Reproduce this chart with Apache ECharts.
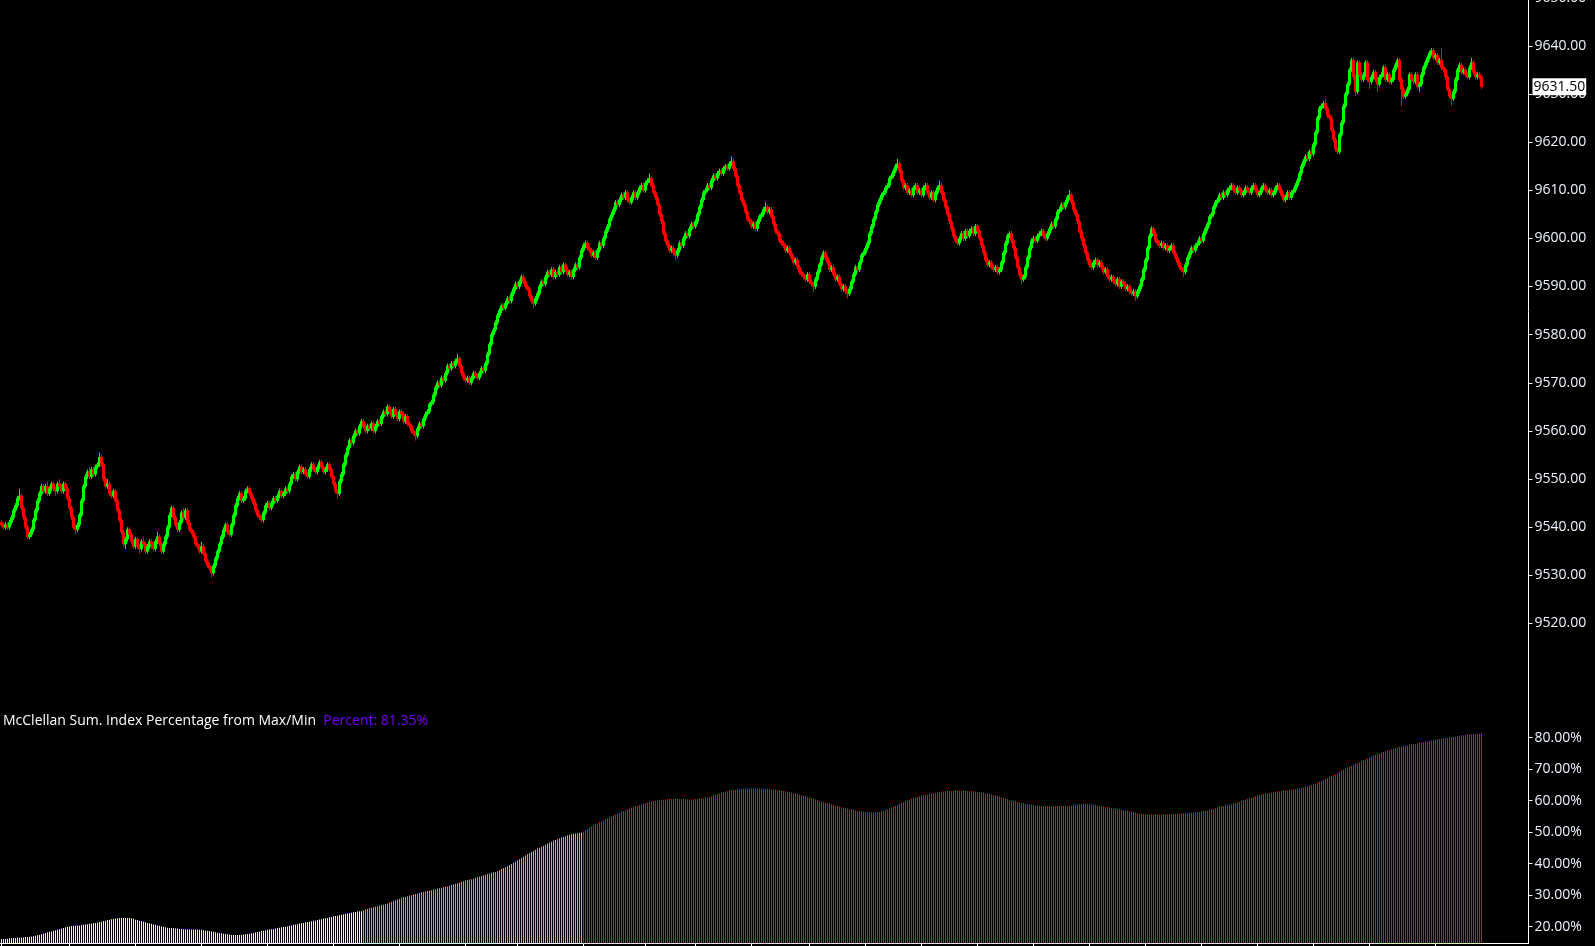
<!DOCTYPE html>
<html><head><meta charset="utf-8">
<script src="https://cdn.jsdelivr.net/npm/echarts@6/dist/echarts.min.js"></script>
<style>html,body{margin:0;padding:0;background:#000;}#c{width:1595px;height:946px;}</style>
</head><body><div id="c"></div>
<script>
// candles: [open, close, low, high]
const candles = [
[9541,9540.5,9540,9541.5],[9540.5,9540,9539.5,9541],[9540,9540.5,9539.5,9541],[9540.5,9540,9539.5,9541],[9540,9541,9539.5,9541.5],[9541,9542,9540.5,9542.5],[9542,9543.5,9541.5,9544],[9543.5,9544.5,9543,9545],[9544.5,9546,9544,9546.5],[9546,9546.5,9545.5,9548],
[9546.5,9544,9543.5,9547],[9544,9542,9541.5,9544.5],[9542,9540,9539.5,9542.5],[9540,9538,9537.5,9540.5],[9538,9538.5,9537.5,9539],[9538.5,9539.5,9538,9540],[9539.5,9541.5,9539,9542],[9541.5,9543.5,9541,9544],[9543.5,9545.5,9543,9546],[9545.5,9547,9545,9547.5],
[9547,9548.5,9546.5,9549],[9548.5,9547.5,9547,9549],[9547.5,9548.5,9547,9549],[9548.5,9547,9546.5,9549.5],[9547,9548,9546.5,9548.5],[9548,9549,9547.5,9549.5],[9549,9548,9547.5,9549.5],[9548,9547.5,9546.5,9548.5],[9547.5,9549,9547,9549.5],[9549,9548.5,9548,9550],
[9548.5,9547.5,9547,9549],[9547.5,9549,9547,9549.5],[9549,9548,9547.5,9549.5],[9548,9546,9545.5,9548.5],[9546,9544,9543.5,9546.5],[9544,9542,9541.5,9544.5],[9542,9540,9539.5,9542.5],[9540,9539.5,9538.5,9540.5],[9539.5,9540.5,9539,9541],[9540.5,9542.5,9540,9543],
[9542.5,9545.5,9542,9546],[9545.5,9548.5,9545,9549],[9548.5,9550.5,9548,9551],[9550.5,9551.5,9550,9552],[9551.5,9550.5,9550,9552.5],[9550.5,9552,9550,9552.5],[9552,9551,9550.5,9552.5],[9551,9552.5,9550.5,9553],[9552.5,9553,9552,9553.5],[9553,9554.5,9552.5,9555.5],
[9554.5,9553,9552.5,9555],[9553,9550,9549.5,9553.5],[9550,9548.5,9548,9550.5],[9548.5,9549,9548,9550],[9549,9547,9546.5,9549.5],[9547,9546.5,9546,9547.5],[9546.5,9547.5,9546,9548],[9547.5,9545.5,9545,9548],[9545.5,9543.5,9543,9546],[9543.5,9541.5,9541,9544],
[9541.5,9539,9538.5,9542],[9539,9536.5,9536,9539.5],[9536.5,9537.5,9535.5,9538],[9537.5,9539.5,9537,9540],[9539.5,9538.5,9538,9540],[9538.5,9537,9536.5,9539],[9537,9536,9535.5,9537.5],[9536,9537.5,9535.5,9538],[9537.5,9536,9535.5,9538],[9536,9535.5,9534.5,9536.5],
[9535.5,9537,9535,9537.5],[9537,9536.5,9536,9538],[9536.5,9535,9534.5,9537],[9535,9536,9534.5,9536.5],[9536,9537,9535.5,9537.5],[9537,9536.5,9535.5,9537.5],[9536.5,9535.5,9535,9537],[9535.5,9537,9535,9537.5],[9537,9538,9536.5,9539],[9538,9536.5,9536,9538.5],
[9536.5,9535,9534.5,9537],[9535,9536.5,9534.5,9537],[9536.5,9538,9536,9538.5],[9538,9540,9537.5,9540.5],[9540,9542.5,9539.5,9543],[9542.5,9544,9542,9544.5],[9544,9542,9541.5,9544.5],[9542,9540.5,9540,9542.5],[9540.5,9539.5,9539,9541],[9539.5,9541,9539,9541.5],
[9541,9543,9540.5,9543.5],[9543,9542,9541.5,9544],[9542,9543.5,9541.5,9544],[9543.5,9541,9540.5,9544],[9541,9539.5,9539,9541.5],[9539.5,9539,9538.5,9540],[9539,9538,9537.5,9539.5],[9538,9536.5,9536,9538.5],[9536.5,9536,9535.5,9537],[9536,9535,9534.5,9536.5],
[9535,9536,9534.5,9537],[9536,9534.5,9534,9536.5],[9534.5,9533,9532.5,9535],[9533,9532,9531.5,9533.5],[9532,9531.5,9531,9532.5],[9531.5,9530.5,9529.5,9532],[9530.5,9532,9530,9532.5],[9532,9533.5,9531.5,9534],[9533.5,9535,9533,9535.5],[9535,9536.5,9534.5,9537],
[9536.5,9538,9536,9538.5],[9538,9539.5,9537.5,9540],[9539.5,9540.5,9539,9541],[9540.5,9539,9538.5,9541],[9539,9538.5,9538,9539.5],[9538.5,9540.5,9538,9541],[9540.5,9542.5,9540,9543],[9542.5,9544.5,9542,9545],[9544.5,9546,9544,9546.5],[9546,9547,9545.5,9547.5],
[9547,9545.5,9545,9547.5],[9545.5,9546,9545,9546.5],[9546,9547.5,9545.5,9548],[9547.5,9548,9547,9548.5],[9548,9547,9546.5,9548.5],[9547,9546,9545.5,9547.5],[9546,9545,9544.5,9546.5],[9545,9543.5,9543,9545.5],[9543.5,9542.5,9542,9544],[9542.5,9542,9541.5,9543],
[9542,9541.5,9541,9542.5],[9541.5,9543,9541,9543.5],[9543,9544.5,9542.5,9545],[9544.5,9545,9544,9545.5],[9545,9544,9543.5,9545.5],[9544,9545,9543.5,9545.5],[9545,9546,9544.5,9546.5],[9546,9545.5,9545,9546.5],[9545.5,9546.5,9545,9547],[9546.5,9547.5,9546,9548],
[9547.5,9546.5,9546,9548],[9546.5,9547,9546,9547.5],[9547,9548,9546.5,9548.5],[9548,9547.5,9547,9548.5],[9547.5,9549,9547,9549.5],[9549,9550.5,9548.5,9551],[9550.5,9551,9550,9551.5],[9551,9550,9549.5,9551.5],[9550,9551.5,9549.5,9552],[9551.5,9552.5,9551,9553],
[9552.5,9551.5,9551,9553],[9551.5,9552,9551,9552.5],[9552,9551,9550.5,9552.5],[9551,9550.5,9550,9551.5],[9550.5,9552,9550,9552.5],[9552,9553,9551.5,9553.5],[9553,9552,9551.5,9553.5],[9552,9551.5,9551,9552.5],[9551.5,9552.5,9551,9553],[9552.5,9553.5,9552,9554],
[9553.5,9552.5,9552,9554],[9552.5,9551.5,9551,9553],[9551.5,9552,9551,9552.5],[9552,9553,9551.5,9553.5],[9553,9552,9551.5,9553.5],[9552,9550.5,9550,9552.5],[9550.5,9549,9548.5,9551],[9549,9547.5,9547,9549.5],[9547.5,9547,9546,9548],[9547,9549.5,9546.5,9550],
[9549.5,9551,9549,9551.5],[9551,9553,9550.5,9553.5],[9553,9555,9552.5,9555.5],[9555,9556.5,9554.5,9557],[9556.5,9558,9556,9558.5],[9558,9557.5,9557,9558.5],[9557.5,9559,9557,9559.5],[9559,9560,9558.5,9560.5],[9560,9559.5,9559,9560.5],[9559.5,9561,9559,9561.5],
[9561,9562,9560.5,9562.5],[9562,9561,9560.5,9562.5],[9561,9560,9559.5,9561.5],[9560,9561,9559.5,9561.5],[9561,9560.5,9560,9561.5],[9560.5,9561.5,9560,9562],[9561.5,9560,9559.5,9562],[9560,9561,9559.5,9561.5],[9561,9562,9560.5,9562.5],[9562,9561.5,9561,9562.5],
[9561.5,9563,9561,9563.5],[9563,9564,9562.5,9564.5],[9564,9563.5,9563,9564.5],[9563.5,9565,9563,9565.5],[9565,9564,9563.5,9565.5],[9564,9563,9562.5,9564.5],[9563,9564.5,9562.5,9565],[9564.5,9563.5,9563,9565],[9563.5,9562.5,9562,9564],[9562.5,9564,9562,9564.5],
[9564,9563.5,9563,9564.5],[9563.5,9562,9561.5,9564],[9562,9563,9561.5,9563.5],[9563,9561.5,9561,9563.5],[9561.5,9561,9560.5,9562],[9561,9560,9559.5,9561.5],[9560,9559.5,9559,9560.5],[9559.5,9559,9558,9560],[9559,9560.5,9558.5,9561],[9560.5,9561.5,9560,9562],
[9561.5,9561,9560.5,9562],[9561,9562.5,9560.5,9563],[9562.5,9563.5,9562,9564],[9563.5,9564,9563,9564.5],[9564,9565.5,9563.5,9566],[9565.5,9566,9565,9566.5],[9566,9567.5,9565.5,9568],[9567.5,9569,9567,9569.5],[9569,9570,9568.5,9570.5],[9570,9569.5,9569,9570.5],
[9569.5,9571,9569,9571.5],[9571,9570.5,9570,9571.5],[9570.5,9572,9570,9572.5],[9572,9573.5,9571.5,9574],[9573.5,9573,9572.5,9574],[9573,9574,9572.5,9574.5],[9574,9573.5,9573,9574.5],[9573.5,9574.5,9573,9575],[9574.5,9575,9574,9576],[9575,9573.5,9573,9575.5],
[9573.5,9572,9571.5,9574],[9572,9571,9570.5,9572.5],[9571,9570.5,9570,9571.5],[9570.5,9571,9570,9571.5],[9571,9570,9569.5,9571.5],[9570,9571,9569.5,9571.5],[9571,9572,9570.5,9572.5],[9572,9571.5,9571,9572.5],[9571.5,9571,9570.5,9572],[9571,9572,9570.5,9572.5],
[9572,9573,9571.5,9573.5],[9573,9572.5,9572,9573.5],[9572.5,9574,9572,9574.5],[9574,9576,9573.5,9576.5],[9576,9578,9575.5,9578.5],[9578,9580,9577.5,9580.5],[9580,9581,9579.5,9581.5],[9581,9582.5,9580.5,9583],[9582.5,9584,9582,9584.5],[9584,9585,9583.5,9585.5],
[9585,9586,9584.5,9586.5],[9586,9585.5,9585,9586.5],[9585.5,9586.5,9585,9587],[9586.5,9587.5,9586,9588],[9587.5,9587,9586.5,9588],[9587,9588.5,9586.5,9589],[9588.5,9589.5,9588,9590],[9589.5,9590.5,9589,9591],[9590.5,9590,9589.5,9591],[9590,9591,9589.5,9591.5],
[9591,9592,9590.5,9592.5],[9592,9591,9590.5,9592.5],[9591,9590,9589.5,9591.5],[9590,9589.5,9589,9590.5],[9589.5,9588,9587.5,9590],[9588,9587,9586.5,9588.5],[9587,9586.5,9585.5,9587.5],[9586.5,9587.5,9586,9588],[9587.5,9588.5,9587,9589],[9588.5,9590,9588,9590.5],
[9590,9591,9589.5,9591.5],[9591,9590.5,9590,9591.5],[9590.5,9592,9590,9592.5],[9592,9593,9591.5,9593.5],[9593,9592.5,9592,9593.5],[9592.5,9593.5,9592,9594],[9593.5,9592,9591.5,9594],[9592,9593,9591.5,9593.5],[9593,9592.5,9592,9593.5],[9592.5,9594,9592,9594.5],
[9594,9593,9592.5,9594.5],[9593,9594.5,9592.5,9595],[9594.5,9593.5,9593,9595],[9593.5,9592.5,9592,9594],[9592.5,9593,9592,9593.5],[9593,9592,9591.5,9593.5],[9592,9593.5,9591.5,9594],[9593.5,9594.5,9593,9595],[9594.5,9594,9593.5,9595],[9594,9596,9593.5,9596.5],
[9596,9597.5,9595.5,9598],[9597.5,9598.5,9597,9599],[9598.5,9599,9598,9599.5],[9599,9598,9597.5,9599.5],[9598,9597.5,9597,9598.5],[9597.5,9596.5,9596,9598],[9596.5,9597,9596,9597.5],[9597,9596,9595.5,9597.5],[9596,9597.5,9595.5,9598],[9597.5,9599,9597,9599.5],
[9599,9598.5,9598,9599.5],[9598.5,9600,9598,9600.5],[9600,9601.5,9599.5,9602],[9601.5,9602.5,9601,9603],[9602.5,9604,9602,9604.5],[9604,9605,9603.5,9605.5],[9605,9606,9604.5,9606.5],[9606,9607.5,9605.5,9608],[9607.5,9607,9606.5,9608],[9607,9608,9606.5,9608.5],
[9608,9609,9607.5,9609.5],[9609,9608.5,9608,9609.5],[9608.5,9609.5,9608,9610],[9609.5,9608,9607.5,9610],[9608,9607.5,9607,9608.5],[9607.5,9608.5,9607,9609],[9608.5,9609.5,9608,9610],[9609.5,9608.5,9608,9610],[9608.5,9609.5,9608,9610],[9609.5,9610.5,9609,9611],
[9610.5,9611,9610,9611.5],[9611,9610,9609.5,9611.5],[9610,9611.5,9609.5,9612],[9611.5,9612,9611,9612.5],[9612,9612.5,9611.5,9613.5],[9612.5,9611,9610.5,9613],[9611,9609.5,9609,9611.5],[9609.5,9608.5,9608,9610],[9608.5,9607,9606.5,9609],[9607,9605,9604.5,9607.5],
[9605,9603.5,9603,9605.5],[9603.5,9601,9600.5,9604],[9601,9599.5,9599,9601.5],[9599.5,9598.5,9598,9600],[9598.5,9597.5,9597,9599],[9597.5,9598,9597,9598.5],[9598,9597,9596.5,9598.5],[9597,9596.5,9595.5,9597.5],[9596.5,9597.5,9596,9598],[9597.5,9599,9597,9599.5],
[9599,9598.5,9598,9599.5],[9598.5,9600,9598,9600.5],[9600,9601,9599.5,9601.5],[9601,9600.5,9600,9601.5],[9600.5,9602,9600,9602.5],[9602,9603,9601.5,9603.5],[9603,9602.5,9602,9603.5],[9602.5,9603.5,9602,9604],[9603.5,9605,9603,9605.5],[9605,9606.5,9604.5,9607],
[9606.5,9608,9606,9608.5],[9608,9609.5,9607.5,9610],[9609.5,9610,9609,9610.5],[9610,9611,9609.5,9611.5],[9611,9610.5,9610,9611.5],[9610.5,9612,9610,9612.5],[9612,9613,9611.5,9613.5],[9613,9612.5,9612,9613.5],[9612.5,9613.5,9612,9614],[9613.5,9614,9613,9614.5],
[9614,9613.5,9613,9614.5],[9613.5,9614.5,9613,9615],[9614.5,9615,9614,9615.5],[9615,9614.5,9614,9615.5],[9614.5,9615.5,9614,9616],[9615.5,9616,9615,9617],[9616,9614.5,9614,9616.5],[9614.5,9613,9612.5,9615],[9613,9611,9610.5,9613.5],[9611,9609.5,9609,9611.5],
[9609.5,9608,9607.5,9610],[9608,9607,9606.5,9608.5],[9607,9605.5,9605,9607.5],[9605.5,9604,9603.5,9606],[9604,9603.5,9603,9604.5],[9603.5,9602.5,9602,9604],[9602.5,9603,9602,9603.5],[9603,9602,9601.5,9603.5],[9602,9603.5,9601.5,9604],[9603.5,9604.5,9603,9605],
[9604.5,9605,9604,9605.5],[9605,9606,9604.5,9606.5],[9606,9606.5,9605.5,9607.5],[9606.5,9605.5,9605,9607],[9605.5,9606,9605,9606.5],[9606,9604.5,9604,9606.5],[9604.5,9603,9602.5,9605],[9603,9601.5,9601,9603.5],[9601.5,9601,9600.5,9602],[9601,9599.5,9599,9601.5],
[9599.5,9599,9598.5,9600],[9599,9598.5,9598,9599.5],[9598.5,9597.5,9597,9599],[9597.5,9598,9597,9598.5],[9598,9597,9596.5,9598.5],[9597,9596,9595.5,9597.5],[9596,9595,9594.5,9596.5],[9595,9595.5,9594.5,9596],[9595.5,9594,9593.5,9596],[9594,9593,9592.5,9594.5],
[9593,9592.5,9592,9593.5],[9592.5,9592,9591.5,9593],[9592,9591.5,9591,9592.5],[9591.5,9592.5,9591,9593],[9592.5,9591,9590.5,9593],[9591,9590.5,9590,9591.5],[9590.5,9590,9589,9591],[9590,9591.5,9589.5,9592],[9591.5,9593,9591,9593.5],[9593,9594.5,9592.5,9595],
[9594.5,9596,9594,9596.5],[9596,9597,9595.5,9597.5],[9597,9596,9595.5,9597.5],[9596,9595,9594.5,9596.5],[9595,9593.5,9593,9595.5],[9593.5,9594,9593,9594.5],[9594,9592.5,9592,9594.5],[9592.5,9591.5,9591,9593],[9591.5,9592,9591,9592.5],[9592,9590.5,9590,9592.5],
[9590.5,9589.5,9589,9591],[9589.5,9590,9589,9590.5],[9590,9589,9588.5,9590.5],[9589,9588.5,9587.5,9589.5],[9588.5,9589.5,9588,9590],[9589.5,9591,9589,9591.5],[9591,9592.5,9590.5,9593],[9592.5,9594,9592,9594.5],[9594,9593.5,9593,9594.5],[9593.5,9595,9593,9595.5],
[9595,9596.5,9594.5,9597],[9596.5,9597,9596,9597.5],[9597,9598,9596.5,9598.5],[9598,9599,9597.5,9599.5],[9599,9601,9598.5,9601.5],[9601,9602.5,9600.5,9603],[9602.5,9604,9602,9604.5],[9604,9605.5,9603.5,9606],[9605.5,9607,9605,9607.5],[9607,9608,9606.5,9608.5],
[9608,9609,9607.5,9609.5],[9609,9609.5,9608.5,9610],[9609.5,9610.5,9609,9611],[9610.5,9611,9610,9611.5],[9611,9612.5,9610.5,9613],[9612.5,9613,9612,9613.5],[9613,9614,9612.5,9614.5],[9614,9615,9613.5,9615.5],[9615,9615.5,9614.5,9616.5],[9615.5,9614,9613.5,9616],
[9614,9612,9611.5,9614.5],[9612,9610.5,9610,9612.5],[9610.5,9611,9610,9611.5],[9611,9609.5,9609,9611.5],[9609.5,9610,9609,9610.5],[9610,9609,9608.5,9610.5],[9609,9610.5,9608.5,9611],[9610.5,9611,9610,9611.5],[9611,9609.5,9609,9611.5],[9609.5,9610,9609,9610.5],
[9610,9609,9608.5,9610.5],[9609,9610.5,9608.5,9611],[9610.5,9611,9610,9611.5],[9611,9609.5,9609,9611.5],[9609.5,9608.5,9608,9610],[9608.5,9609.5,9608,9610],[9609.5,9608,9607.5,9610],[9608,9609.5,9607.5,9610],[9609.5,9610.5,9609,9611],[9610.5,9611,9610,9612],
[9611,9609.5,9609,9611.5],[9609.5,9608,9607.5,9610],[9608,9606.5,9606,9608.5],[9606.5,9605,9604.5,9607],[9605,9603.5,9603,9605.5],[9603.5,9602,9601.5,9604],[9602,9600.5,9600,9602.5],[9600.5,9599.5,9599,9601],[9599.5,9599,9598.5,9600],[9599,9600,9598.5,9600.5],
[9600,9601,9599.5,9601.5],[9601,9600,9599.5,9601.5],[9600,9601.5,9599.5,9602],[9601.5,9600.5,9600,9602],[9600.5,9601.5,9600,9602],[9601.5,9602,9601,9602.5],[9602,9601,9600.5,9602.5],[9601,9602.5,9600.5,9603],[9602.5,9601.5,9601,9603],[9601.5,9600,9599.5,9602],
[9600,9598.5,9598,9600.5],[9598.5,9597,9596.5,9599],[9597,9595.5,9595,9597.5],[9595.5,9594.5,9594,9596],[9594.5,9595,9594,9595.5],[9595,9594,9593.5,9595.5],[9594,9593.5,9593,9594.5],[9593.5,9594,9593,9594.5],[9594,9593,9592.5,9594.5],[9593,9593.5,9592.5,9594],
[9593.5,9595,9593,9595.5],[9595,9597,9594.5,9597.5],[9597,9599,9596.5,9599.5],[9599,9600.5,9598.5,9601],[9600.5,9601,9600,9601.5],[9601,9599.5,9599,9601.5],[9599.5,9598,9597.5,9600],[9598,9596,9595.5,9598.5],[9596,9594,9593.5,9596.5],[9594,9592.5,9592,9594.5],
[9592.5,9591.5,9590.5,9593],[9591.5,9592,9591,9592.5],[9592,9594,9591.5,9594.5],[9594,9596,9593.5,9596.5],[9596,9598,9595.5,9598.5],[9598,9599.5,9597.5,9600],[9599.5,9600,9599,9600.5],[9600,9599.5,9599,9600.5],[9599.5,9600.5,9599,9601],[9600.5,9601,9600,9601.5],
[9601,9601.5,9600.5,9602],[9601.5,9600.5,9600,9602],[9600.5,9600,9599.5,9601],[9600,9601,9599.5,9601.5],[9601,9602,9600.5,9602.5],[9602,9603,9601.5,9603.5],[9603,9602.5,9602,9603.5],[9602.5,9604,9602,9604.5],[9604,9605.5,9603.5,9606],[9605.5,9606,9605,9606.5],
[9606,9607,9605.5,9607.5],[9607,9606.5,9606,9607.5],[9606.5,9607.5,9606,9608],[9607.5,9608.5,9607,9609],[9608.5,9609,9608,9610],[9609,9607.5,9607,9609.5],[9607.5,9606,9605.5,9608],[9606,9605,9604.5,9606.5],[9605,9603.5,9603,9605.5],[9603.5,9601.5,9601,9604],
[9601.5,9600,9599.5,9602],[9600,9598.5,9598,9600.5],[9598.5,9597,9596.5,9599],[9597,9595.5,9595,9597.5],[9595.5,9594.5,9594,9596],[9594.5,9594,9593.5,9595],[9594,9595,9593.5,9595.5],[9595,9595.5,9594.5,9596],[9595.5,9594.5,9594,9596],[9594.5,9595,9594,9595.5],
[9595,9594,9593.5,9595.5],[9594,9593,9592.5,9594.5],[9593,9593.5,9592.5,9594],[9593.5,9592,9591.5,9594],[9592,9591.5,9591,9592.5],[9591.5,9592,9591,9592.5],[9592,9591,9590.5,9592.5],[9591,9590.5,9590,9591.5],[9590.5,9591.5,9590,9592],[9591.5,9590,9589.5,9592],
[9590,9591,9589.5,9591.5],[9591,9590.5,9590,9591.5],[9590.5,9589.5,9589,9591],[9589.5,9590,9589,9590.5],[9590,9589,9588.5,9590.5],[9589,9588.5,9588,9589.5],[9588.5,9589,9588,9589.5],[9589,9588,9587,9589.5],[9588,9589,9587.5,9589.5],[9589,9590,9588.5,9590.5],
[9590,9591.5,9589.5,9592],[9591.5,9593.5,9591,9594],[9593.5,9595.5,9593,9596],[9595.5,9598,9595,9598.5],[9598,9600.5,9597.5,9601],[9600.5,9602,9600,9602.5],[9602,9601,9600.5,9602.5],[9601,9599.5,9599,9601.5],[9599.5,9599,9598.5,9600],[9599,9598.5,9598,9599.5],
[9598.5,9599,9598,9599.5],[9599,9598,9597.5,9599.5],[9598,9598.5,9597.5,9599],[9598.5,9597.5,9597,9599],[9597.5,9598,9597,9598.5],[9598,9598.5,9597.5,9599],[9598.5,9597,9596.5,9599],[9597,9596,9595.5,9597.5],[9596,9595,9594.5,9596.5],[9595,9594,9593.5,9595.5],
[9594,9593.5,9593,9594.5],[9593.5,9593,9592,9594],[9593,9594.5,9592.5,9595],[9594.5,9596,9594,9596.5],[9596,9597,9595.5,9597.5],[9597,9598,9596.5,9598.5],[9598,9597.5,9597,9598.5],[9597.5,9598.5,9597,9599],[9598.5,9599,9598,9599.5],[9599,9600,9598.5,9600.5],
[9600,9599.5,9599,9600.5],[9599.5,9601,9599,9601.5],[9601,9602,9600.5,9602.5],[9602,9603,9601.5,9603.5],[9603,9604.5,9602.5,9605],[9604.5,9605,9604,9605.5],[9605,9606.5,9604.5,9607],[9606.5,9607.5,9606,9608],[9607.5,9608,9607,9608.5],[9608,9609,9607.5,9609.5],
[9609,9608.5,9608,9609.5],[9608.5,9609.5,9608,9610],[9609.5,9609,9608.5,9610],[9609,9610,9608.5,9610.5],[9610,9610.5,9609.5,9611],[9610.5,9611,9610,9611.5],[9611,9610,9609.5,9611.5],[9610,9609.5,9609,9610.5],[9609.5,9610.5,9609,9611],[9610.5,9610,9609.5,9611],
[9610,9609,9608.5,9610.5],[9609,9609.5,9608.5,9610],[9609.5,9610.5,9609,9611],[9610.5,9610,9609.5,9611],[9610,9609.5,9609,9610.5],[9609.5,9610.5,9609,9611],[9610.5,9611,9610,9611.5],[9611,9610,9609.5,9611.5],[9610,9609,9608.5,9610.5],[9609,9609.5,9608.5,9610],
[9609.5,9610.5,9609,9611],[9610.5,9611,9610,9611.5],[9611,9610,9609.5,9611.5],[9610,9609.5,9609,9610.5],[9609.5,9610,9609,9610.5],[9610,9609,9608.5,9610.5],[9609,9609.5,9608.5,9610],[9609.5,9610.5,9609,9611],[9610.5,9611,9610,9611.5],[9611,9610,9609.5,9611.5],
[9610,9609,9608.5,9610.5],[9609,9608,9607.5,9609.5],[9608,9608.5,9607.5,9609],[9608.5,9609.5,9608,9610],[9609.5,9608.5,9608,9610],[9608.5,9609.5,9608,9610],[9609.5,9610,9609,9610.5],[9610,9611,9609.5,9611.5],[9611,9612,9610.5,9612.5],[9612,9613.5,9611.5,9614],
[9613.5,9615,9613,9615.5],[9615,9616,9614.5,9616.5],[9616,9617,9615.5,9617.5],[9617,9616.5,9616,9618],[9616.5,9618,9616,9618.5],[9618,9617.5,9617,9619],[9617.5,9619.5,9617,9620],[9619.5,9622,9619,9622.5],[9622,9625,9621.5,9625.5],[9625,9627,9624.5,9627.5],
[9627,9627.5,9626.5,9628],[9627.5,9628,9627,9628.5],[9628,9627,9626.5,9629],[9627,9625.5,9625,9627.5],[9625.5,9625,9624.5,9626],[9625,9622.5,9622,9625.5],[9622.5,9620.5,9620,9623],[9620.5,9618.5,9618,9621],[9618.5,9618,9617.5,9619],[9618,9621.5,9617.5,9622],
[9621.5,9624,9621,9624.5],[9624,9627.5,9623.5,9628],[9627.5,9630,9627,9630.5],[9630,9632,9629.5,9632.5],[9632,9635,9631.5,9635.5],[9635,9637,9634.5,9637.5],[9637,9633.5,9633,9637.5],[9633.5,9630.5,9629.5,9634],[9630.5,9636.5,9630,9637],[9636.5,9634,9633.5,9637],
[9634,9633,9632.5,9634.5],[9633,9634,9632.5,9634.5],[9634,9636.5,9633.5,9637],[9636.5,9633,9632.5,9637],[9633,9632.5,9631,9633.5],[9632.5,9633.5,9632,9634],[9633.5,9634.5,9633,9635],[9634.5,9633,9632.5,9635],[9633,9632,9630.5,9633.5],[9632,9633.5,9631.5,9634],
[9633.5,9634,9633,9634.5],[9634,9635.5,9633.5,9636],[9635.5,9633,9632.5,9636],[9633,9634,9632.5,9634.5],[9634,9632.5,9632,9634.5],[9632.5,9633,9632,9633.5],[9633,9635,9632.5,9635.5],[9635,9636,9634.5,9636.5],[9636,9637,9635.5,9637.5],[9637,9633,9632.5,9637.5],
[9633,9631,9627.5,9633.5],[9631,9629.5,9629,9631.5],[9629.5,9630,9629,9630.5],[9630,9631,9629.5,9631.5],[9631,9634,9630.5,9634.5],[9634,9633,9632.5,9634.5],[9633,9632.5,9632,9633.5],[9632.5,9634,9632,9634.5],[9634,9631.5,9631,9634.5],[9631.5,9632,9630.5,9632.5],
[9632,9634,9631.5,9634.5],[9634,9635.5,9633.5,9636],[9635.5,9636.5,9635,9637],[9636.5,9637.5,9636,9638],[9637.5,9638.5,9637,9639],[9638.5,9639,9638,9639.5],[9639,9637.5,9637,9639.5],[9637.5,9638,9637,9638.5],[9638,9636.5,9636,9638.5],[9636.5,9637,9636,9637.5],
[9637,9635.5,9635,9639.5],[9635.5,9635,9634.5,9636],[9635,9633.5,9633,9635.5],[9633.5,9631,9630.5,9634],[9631,9629.5,9629,9631.5],[9629.5,9629,9627.5,9630],[9629,9630.5,9628.5,9631],[9630.5,9633,9630,9633.5],[9633,9635,9632.5,9635.5],[9635,9636,9634.5,9636.5],
[9636,9634.5,9634,9636.5],[9634.5,9635,9634,9635.5],[9635,9634,9633.5,9635.5],[9634,9633.5,9633,9634.5],[9633.5,9635.5,9633,9636],[9635.5,9636.5,9635,9637.5],[9636.5,9634.5,9634,9637],[9634.5,9633.5,9633,9635],[9633.5,9634,9633,9634.5],[9634,9633.5,9633,9634.5],
[9633.5,9631.5,9631,9634]
];

// McClellan Sum. Index percentage, one value per bar
const percentValues = [
16.1,16.1,16.2,16.2,16.3,16.3,16.4,16.4,16.5,16.5,
16.6,16.6,16.7,16.7,16.8,16.9,17.0,17.1,17.3,17.4,
17.6,17.8,18.0,18.2,18.4,18.5,18.7,18.9,19.0,19.2,
19.4,19.6,19.8,20.0,20.1,20.2,20.2,20.3,20.4,20.4,
20.5,20.6,20.7,20.8,20.9,21.0,21.1,21.2,21.3,21.5,
21.6,21.8,21.9,22.1,22.2,22.4,22.5,22.6,22.7,22.8,
22.8,22.8,22.8,22.8,22.8,22.7,22.5,22.2,22.1,21.9,
21.8,21.6,21.4,21.2,21.1,20.9,20.7,20.6,20.4,20.3,
20.1,20.0,19.8,19.7,19.6,19.6,19.5,19.4,19.4,19.3,
19.3,19.2,19.2,19.2,19.1,19.1,19.1,19.1,19.0,19.0,
19.0,18.9,18.8,18.7,18.6,18.5,18.4,18.2,18.1,18.0,
17.9,17.8,17.7,17.6,17.5,17.4,17.4,17.4,17.4,17.4,
17.4,17.5,17.6,17.7,17.8,17.9,18.0,18.2,18.3,18.4,
18.6,18.7,18.9,19.0,19.1,19.2,19.3,19.4,19.6,19.7,
19.8,19.9,20.0,20.1,20.3,20.4,20.6,20.7,20.8,21.0,
21.1,21.2,21.4,21.5,21.6,21.7,21.9,22.0,22.1,22.3,
22.4,22.6,22.7,22.8,23.0,23.1,23.3,23.4,23.5,23.7,
23.8,23.9,24.0,24.2,24.3,24.4,24.5,24.7,24.8,24.9,
24.9,25.2,25.5,25.7,25.9,26.0,26.2,26.4,26.5,26.7,
26.9,27.0,27.2,27.4,27.7,27.9,28.2,28.4,28.7,28.9,
29.2,29.4,29.5,29.7,29.9,30.0,30.2,30.4,30.5,30.7,
30.9,31.0,31.2,31.3,31.5,31.6,31.8,31.9,32.1,32.2,
32.4,32.5,32.7,32.8,33.0,33.2,33.4,33.6,33.8,34.0,
34.2,34.4,34.6,34.8,35.0,35.1,35.3,35.5,35.7,35.9,
36.1,36.3,36.5,36.7,36.9,37.1,37.3,37.4,37.6,37.9,
38.3,38.6,38.9,39.2,39.6,39.9,40.3,40.7,41.0,41.4,
41.8,42.2,42.6,43.0,43.4,43.7,44.1,44.4,44.8,45.1,
45.4,45.7,46.0,46.4,46.7,47.0,47.3,47.5,47.8,48.0,
48.3,48.5,48.7,49.0,49.2,49.4,49.5,49.6,49.7,49.8,
49.9,50.2,50.6,50.9,51.3,51.7,52.1,52.5,52.8,53.2,
53.5,53.8,54.1,54.4,54.7,55.0,55.3,55.6,55.9,56.2,
56.5,56.7,57.0,57.3,57.5,57.8,58.0,58.2,58.4,58.6,
58.8,59.0,59.2,59.4,59.6,59.8,59.9,60.0,60.1,60.2,
60.3,60.3,60.4,60.4,60.5,60.5,60.5,60.5,60.5,60.5,
60.5,60.5,60.4,60.4,60.4,60.4,60.4,60.5,60.5,60.6,
60.7,60.8,60.9,61.0,61.2,61.4,61.7,61.9,62.1,62.3,
62.5,62.7,62.9,63.0,63.2,63.3,63.4,63.5,63.6,63.7,
63.7,63.8,63.8,63.8,63.9,63.9,63.9,63.9,63.9,63.8,
63.8,63.8,63.7,63.7,63.6,63.6,63.5,63.5,63.4,63.3,
63.2,63.1,63.0,62.9,62.7,62.6,62.4,62.3,62.1,61.9,
61.8,61.6,61.4,61.2,61.0,60.8,60.6,60.4,60.2,60.0,
59.8,59.6,59.4,59.2,59.0,58.8,58.6,58.4,58.3,58.1,
57.9,57.8,57.6,57.5,57.3,57.2,57.1,56.9,56.8,56.7,
56.6,56.5,56.4,56.4,56.3,56.3,56.3,56.3,56.4,56.5,
56.7,56.9,57.1,57.3,57.5,57.8,58.1,58.4,58.7,59.0,
59.3,59.6,59.8,60.1,60.3,60.6,60.8,61.0,61.2,61.4,
61.6,61.7,61.9,62.0,62.2,62.3,62.4,62.5,62.6,62.7,
62.8,62.9,63.0,63.1,63.1,63.1,63.2,63.2,63.2,63.2,
63.2,63.1,63.1,63.1,63.0,63.0,62.9,62.9,62.8,62.7,
62.6,62.5,62.4,62.3,62.1,62.0,61.8,61.7,61.5,61.3,
61.1,60.9,60.7,60.5,60.3,60.1,59.9,59.8,59.6,59.5,
59.3,59.2,59.0,58.9,58.8,58.7,58.6,58.5,58.4,58.3,
58.3,58.3,58.2,58.2,58.2,58.2,58.2,58.2,58.3,58.3,
58.3,58.3,58.3,58.3,58.4,58.5,58.6,58.7,58.8,58.9,
58.9,59.0,59.0,59.0,58.9,58.8,58.7,58.6,58.5,58.3,
58.2,58.1,58.0,57.9,57.8,57.7,57.6,57.5,57.4,57.3,
57.2,57.0,56.9,56.8,56.7,56.5,56.4,56.2,56.0,55.9,
55.8,55.7,55.7,55.6,55.6,55.6,55.6,55.6,55.6,55.6,
55.6,55.6,55.7,55.7,55.7,55.7,55.7,55.8,55.8,55.9,
55.9,56.0,56.0,56.1,56.2,56.2,56.3,56.4,56.4,56.5,
56.6,56.7,56.8,56.9,57.1,57.2,57.4,57.6,57.8,58.0,
58.2,58.3,58.5,58.7,58.8,58.9,59.1,59.3,59.5,59.7,
59.9,60.1,60.3,60.5,60.7,60.9,61.1,61.4,61.6,61.8,
62.0,62.2,62.3,62.4,62.5,62.6,62.7,62.8,62.9,63.0,
63.1,63.2,63.3,63.3,63.4,63.5,63.6,63.7,63.8,63.9,
64.0,64.2,64.4,64.6,64.8,65.0,65.2,65.4,65.7,66.0,
66.3,66.6,66.9,67.2,67.5,67.8,68.1,68.4,68.8,69.2,
69.6,69.9,70.2,70.5,70.8,71.1,71.4,71.7,71.9,72.2,
72.5,72.8,73.1,73.4,73.7,74.0,74.3,74.6,74.8,75.1,
75.3,75.5,75.7,75.9,76.1,76.3,76.5,76.7,76.9,77.1,
77.2,77.4,77.5,77.6,77.8,77.9,78.0,78.1,78.2,78.4,
78.5,78.6,78.7,78.8,79.0,79.1,79.3,79.4,79.5,79.6,
79.7,79.8,79.9,80.0,80.1,80.2,80.3,80.4,80.5,80.6,
80.7,80.8,80.9,81.0,81.0,81.1,81.1,81.2,81.2,81.3,
81.35
];

const slotCount = 764; // bar slots across the plot, incl. empty right margin
const slots = Array.from({length: slotCount}, (_, i) => String(i));
const timeTickIndex = [0,34,67,100,133,166,199,232,258,291,322,347,375,404,432,460,488,516,544,572,600,628,656,684,717];
const percentTicks = [20,30,40,50,60,70,80];
const percentLevels = [25, 37.5, 50, 75];
const percentColors = ['#ffff99','#f4895a','#e6a462','#f01010','#7f1fe6'];

const FONT = '"Open Sans", "Liberation Sans", sans-serif';
const tickSet = new Set(timeTickIndex);
function levelColor(v){ let k = 0; while (k < percentLevels.length && v >= percentLevels[k]) k++; return percentColors[k]; }
const lastClose = candles[candles.length-1][1];
const lastPercent = percentValues[percentValues.length-1];

const chart = echarts.init(document.getElementById('c'), null, {renderer:'canvas'});
chart.setOption({
  backgroundColor: '#000',
  animation: false,
  title: {
    left: 3, top: 714, padding: 0,
    text: '{a|McClellan Sum. Index Percentage from Max/Min}  {b|Percent: ' + lastPercent.toFixed(2) + '%}',
    textStyle: { fontFamily: FONT, fontSize: 14, fontWeight: 'normal', rich: {
      a: { color: '#ffffff', fontFamily: FONT, fontSize: 14, fontWeight: 'normal' },
      b: { color: '#7b00ff', fontFamily: FONT, fontSize: 14, fontWeight: 'normal' }
    }}
  },
  grid: [
    { left: 0.5, width: 1528, top: -2.34, height: 625.84, outerBoundsMode: 'none', containLabel: false },
    { left: 0.5, width: 1528, top: 623.5, height: 319.8, outerBoundsMode: 'none', containLabel: false }
  ],
  xAxis: [
    { type: 'category', gridIndex: 0, data: slots, boundaryGap: true, axisLine: {show: false}, axisTick: {show: false}, axisLabel: {show: false}, splitLine: {show: false} },
    { type: 'category', gridIndex: 1, data: slots, boundaryGap: true,
      axisLine: { show: true, lineStyle: { color: '#ffffff', width: 1 } },
      axisTick: { show: true, alignWithLabel: true, length: 4, interval: (idx) => tickSet.has(idx), lineStyle: { color: '#ffffff' } },
      axisLabel: { show: false }, splitLine: { show: false } }
  ],
  yAxis: [
    { type: 'value', gridIndex: 0, position: 'right', min: 9520, max: 9650, interval: 10,
      axisLine: { show: true, lineStyle: { color: '#ffffff' } },
      axisTick: { show: true, length: 4, lineStyle: { color: '#ffffff' } },
      axisLabel: { color: '#eef3ff', fontFamily: FONT, fontSize: 14, margin: 6, formatter: v => v.toFixed(2) },
      splitLine: { show: false } },
    { type: 'value', gridIndex: 1, position: 'right', min: 14.73, max: 116.25,
      axisLine: { show: true, lineStyle: { color: '#ffffff' } },
      axisTick: { show: true, length: 4, customValues: percentTicks, lineStyle: { color: '#ffffff' } },
      axisLabel: { color: '#eef3ff', fontFamily: FONT, fontSize: 14, margin: 6, customValues: percentTicks, formatter: v => v.toFixed(2) + '%' },
      splitLine: { show: false } }
  ],
  series: [
    { type: 'candlestick', xAxisIndex: 0, yAxisIndex: 0, data: candles, large: false, barWidth: 2,
      itemStyle: { color: '#00ff00', color0: '#ff0000', borderColor: '#00ff00', borderColor0: '#ff0000', borderWidth: 1 },
      emphasis: { disabled: true }, silent: true,
      markLine: { silent: true, symbol: 'none', animation: false, z: 10,
        lineStyle: { color: 'rgba(0,0,0,0)', width: 0, type: 'solid' },
        label: { show: true, position: 'end', distance: 4, formatter: () => lastClose.toFixed(2), opacity: 1,
          color: '#000000', backgroundColor: '#ffffff', padding: [2, 1, 1, 1], fontFamily: FONT, fontSize: 14 },
        emphasis: { disabled: true },
        data: [ { yAxis: lastClose } ] } },
    { type: 'bar', xAxisIndex: 1, yAxisIndex: 1, barWidth: 1, silent: true, large: false,
      data: percentValues.map(v => ({ value: v, itemStyle: { color: levelColor(v) } })) }
  ]
});
</script>
</body></html>
